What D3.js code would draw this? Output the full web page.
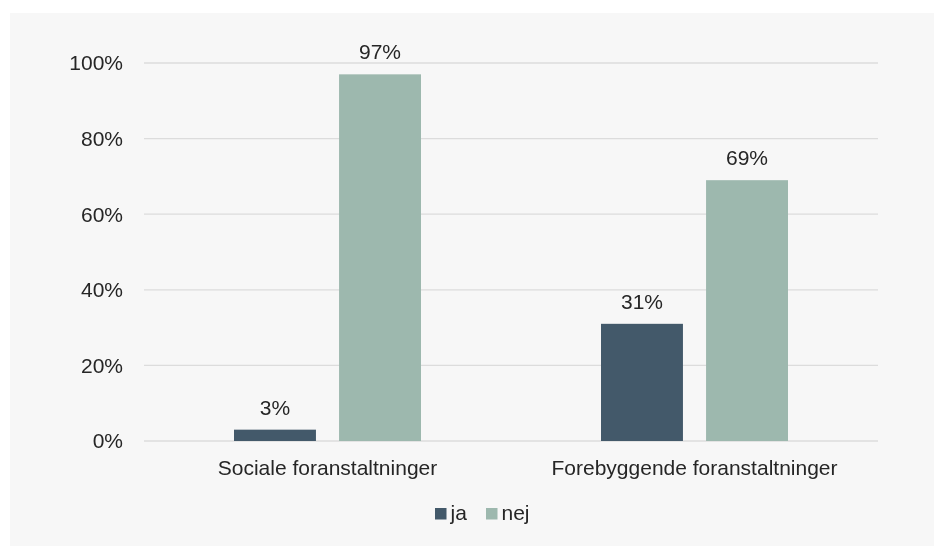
<!DOCTYPE html>
<html>
<head>
<meta charset="utf-8">
<title>ja / nej</title>
<script src="https://d3js.org/d3.v7.min.js"></script>
<style>
  html, body { margin: 0; padding: 0; background: #fff; overflow: hidden; }
  svg { display: block; overflow: visible; }
  #panel { position: fixed; left: 10px; top: 13px; right: 0; bottom: 0; background: #f7f7f7; }
  #chart { position: absolute; left: 0; top: 0; }
  text { font-family: "Liberation Sans", Arial, Helvetica, sans-serif; fill: #262626; }
</style>
</head>
<body>
<div id="panel"></div>
<div id="chart"></div>
<script>
var categories = ["Sociale foranstaltninger", "Forebyggende foranstaltninger"];
var seriesNames = ["ja", "nej"];
var ja = [3, 31];
var nej = [97, 69];
var yTicks = [0, 20, 40, 60, 80, 100];
var colors = ["#43596a", "#9db8ae"];

var width = 934, height = 546;
var margin = {left: 144, right: 56, top: 63, bottom: 105};
var groupW = 187;
var fs = "21px";

var svg = d3.select("#chart").append("svg")
    .attr("width", width)
    .attr("height", height);

var x0 = d3.scaleBand()
    .domain(categories)
    .range([margin.left, width - margin.right]);

var x1 = d3.scaleBand()
    .domain(seriesNames)
    .range([0, groupW])
    .paddingInner(0.22);

var y = d3.scaleLinear()
    .domain([0, 100])
    .range([height - margin.bottom, margin.top]);

// gridlines
svg.append("g").selectAll("line")
    .data(yTicks)
    .enter().append("line")
    .attr("x1", margin.left).attr("x2", width - margin.right)
    .attr("y1", function(d) { return y(d); })
    .attr("y2", function(d) { return y(d); })
    .attr("stroke", "#dcdcdc")
    .attr("stroke-width", 1.3);

// y tick labels
svg.append("g").selectAll("text")
    .data(yTicks)
    .enter().append("text")
    .attr("x", 123)
    .attr("y", function(d) { return y(d); })
    .attr("dy", "0.35em")
    .attr("text-anchor", "end")
    .style("font-size", fs)
    .text(function(d) { return d + "%"; });

var data = [];
categories.forEach(function(c, i) {
  data.push({cat: c, s: "ja", v: ja[i], k: 0});
  data.push({cat: c, s: "nej", v: nej[i], k: 1});
});

function barX(d) {
  return x0(d.cat) + (x0.bandwidth() - groupW) / 2 + x1(d.s);
}

svg.append("g").selectAll("rect")
    .data(data)
    .enter().append("rect")
    .attr("x", barX)
    .attr("y", function(d) { return y(d.v); })
    .attr("width", x1.bandwidth())
    .attr("height", function(d) { return y(0) - y(d.v); })
    .attr("fill", function(d) { return colors[d.k]; });

// value labels
svg.append("g").selectAll("text")
    .data(data)
    .enter().append("text")
    .attr("x", function(d) { return barX(d) + x1.bandwidth() / 2; })
    .attr("y", function(d) { return y(d.v) - 15; })
    .attr("text-anchor", "middle")
    .style("font-size", fs)
    .text(function(d) { return d.v + "%"; });

// category labels
svg.append("g").selectAll("text")
    .data(categories)
    .enter().append("text")
    .attr("x", function(d) { return x0(d) + x0.bandwidth() / 2; })
    .attr("y", 475)
    .attr("text-anchor", "middle")
    .style("font-size", fs)
    .text(function(d) { return d; });

// legend
var legend = svg.append("g").selectAll("g")
    .data(seriesNames)
    .enter().append("g")
    .attr("transform", function(d, i) { return "translate(" + (435 + i * 51) + ",508)"; });

legend.append("rect")
    .attr("width", 11.5).attr("height", 11.5)
    .attr("fill", function(d, i) { return colors[i]; });

legend.append("text")
    .attr("x", 15.5)
    .attr("y", 11.5)
    .style("font-size", fs)
    .text(function(d) { return d; });
</script>
</body>
</html>
